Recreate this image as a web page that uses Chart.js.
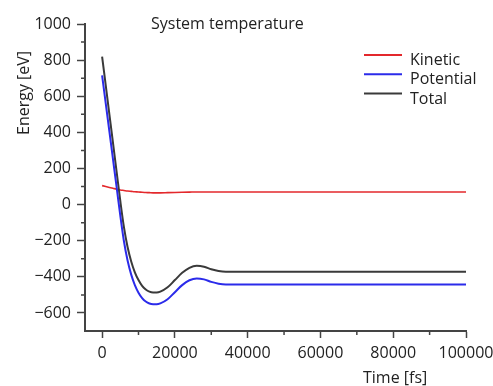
<!DOCTYPE html>
<html>
<head>
<meta charset="utf-8">
<title>System temperature</title>
<script src="https://cdn.jsdelivr.net/npm/chart.js@4.4.1/dist/chart.umd.min.js"></script>
<style>
  html, body { margin: 0; padding: 0; background: #fff; }
  #wrap { width: 493px; height: 386px; }
</style>
</head>
<body>
<div id="wrap"><canvas id="energyChart"></canvas></div>
<script>
// -----  energy vs time  ----- //
var timeFs    = [0, 1000, 2000, 3000, 4000, 5000, 6000, 7000, 8000, 9000, 10000, 11000, 12000, 13000, 14000, 15000, 16000, 18000, 20000, 22000, 24000, 26000, 28000, 30000, 32000, 34000, 40000, 50000, 60000, 70000, 80000, 90000, 100000];
var kinetic   = [105, 100, 95, 90, 85, 81, 78, 75, 73, 71, 70, 68, 67, 66, 65, 65, 65, 66, 67, 68, 69, 70, 70, 70, 70, 70, 70, 70, 70, 70, 70, 70, 70];
var potential = [715, 560, 405, 250, 95, -61, -203, -310, -388, -446, -488, -518, -537, -548, -552, -552, -547, -524, -485, -446, -419, -409, -414, -428, -438, -442, -442, -442, -442, -442, -442, -442, -442];
var total     = [820, 660, 500, 340, 180, 20, -125, -235, -315, -375, -418, -450, -470, -482, -487, -487, -482, -458, -418, -378, -350, -339, -344, -358, -368, -372, -372, -372, -372, -372, -372, -372, -372];

var xTickValues = [0, 20000, 40000, 60000, 80000, 100000];
var yTickValues = [-600, -400, -200, 0, 200, 400, 600, 800, 1000];
var xMinorTicks = [10000, 30000, 50000, 70000, 90000];
var yMinorTicks = [-500, -300, -100, 100, 300, 500, 700, 900];

var axisColor = '#444';
var textColor = '#222';
var fontFamily = "'Open Sans', sans-serif";

function toPoints(values) {
  return timeFs.map(function(t, i) { return { x: t, y: values[i] }; });
}

// plain numbers, real minus sign
function fmt(v) {
  return v < 0 ? '\u2212' + Math.abs(v) : String(v);
}

// short ticks between the labelled ones
var minorTicks = {
  id: 'minorTicks',
  afterDraw: function(chart) {
    var ctx = chart.ctx, area = chart.chartArea;
    var x = chart.scales.x, y = chart.scales.y;
    ctx.save();
    ctx.strokeStyle = axisColor;
    ctx.lineWidth = 1.5;
    ctx.beginPath();
    xMinorTicks.forEach(function(v) {
      var px = x.getPixelForValue(v);
      ctx.moveTo(px, area.bottom);
      ctx.lineTo(px, area.bottom + 4);
    });
    yMinorTicks.forEach(function(v) {
      var py = y.getPixelForValue(v);
      ctx.moveTo(area.left, py);
      ctx.lineTo(area.left - 4, py);
    });
    ctx.stroke();
    ctx.restore();
  }
};

// title, axis titles and the legend box inside the plot
var textLayer = {
  id: 'textLayer',
  afterDraw: function(chart) {
    var ctx = chart.ctx;
    ctx.save();
    ctx.fillStyle = textColor;
    ctx.font = '16px ' + fontFamily;
    ctx.textAlign = 'left';
    ctx.textBaseline = 'alphabetic';

    ctx.fillText('System temperature', 151, 29);
    ctx.fillText('Time [fs]', 363, 383);

    ctx.save();
    ctx.translate(29, 135);
    ctx.rotate(-Math.PI / 2);
    ctx.fillText('Energy [eV]', 0, 0);
    ctx.restore();

    chart.data.datasets.forEach(function(ds, i) {
      var ly = 55 + i * 19.3;
      ctx.strokeStyle = ds.borderColor;
      ctx.lineWidth = 2;
      ctx.beginPath();
      ctx.moveTo(364, ly);
      ctx.lineTo(402, ly);
      ctx.stroke();
      ctx.fillText(ds.label, 410, ly + 10);
    });
    ctx.restore();
  }
};

var ctx = document.getElementById('energyChart').getContext('2d');
var energyChart = new Chart(ctx, {
  type: 'line',
  data: {
    datasets: [
      { label: 'Kinetic',   data: toPoints(kinetic),   borderColor: '#e3282c', borderWidth: 1.6, order: 2 },
      { label: 'Potential', data: toPoints(potential), borderColor: '#2b2bea', borderWidth: 2,   order: 0 },
      { label: 'Total',     data: toPoints(total),     borderColor: '#3a3a3a', borderWidth: 2,   order: 1 }
    ]
  },
  options: {
    responsive: true,
    maintainAspectRatio: false,
    animation: false,
    layout: { padding: { top: 24, right: 27, left: 0, bottom: 0 } },
    elements: {
      point: { radius: 0 },
      line: { cubicInterpolationMode: 'monotone', fill: false }
    },
    scales: {
      x: {
        type: 'linear',
        min: -4700,
        max: 100000,
        afterBuildTicks: function(s) { s.ticks = xTickValues.map(function(v) { return { value: v }; }); },
        // fixed height; last label may run into the right margin
        afterFit: function(s) { s.height = 55; s.paddingRight = 0; s.paddingLeft = 0; },
        ticks: {
          callback: fmt, color: textColor, padding: 6,
          maxRotation: 0, autoSkip: false,
          font: { family: fontFamily, size: 16 }
        },
        grid: { drawOnChartArea: false, tickLength: 7, tickColor: axisColor, tickWidth: 1.5 },
        border: { color: axisColor, width: 2 }
      },
      y: {
        min: -700,
        max: 1000,
        afterBuildTicks: function(s) { s.ticks = yTickValues.map(function(v) { return { value: v }; }); },
        afterFit: function(s) { s.width = 85; s.paddingTop = 0; s.paddingBottom = 0; },
        ticks: {
          callback: fmt, color: textColor, padding: 6,
          font: { family: fontFamily, size: 16 }
        },
        grid: { drawOnChartArea: false, tickLength: 8, tickColor: axisColor, tickWidth: 1.5 },
        border: { color: axisColor, width: 2 }
      }
    },
    plugins: {
      legend: { display: false },
      title: { display: false },
      tooltip: { enabled: false }
    }
  },
  plugins: [minorTicks, textLayer]
});
</script>
</body>
</html>
